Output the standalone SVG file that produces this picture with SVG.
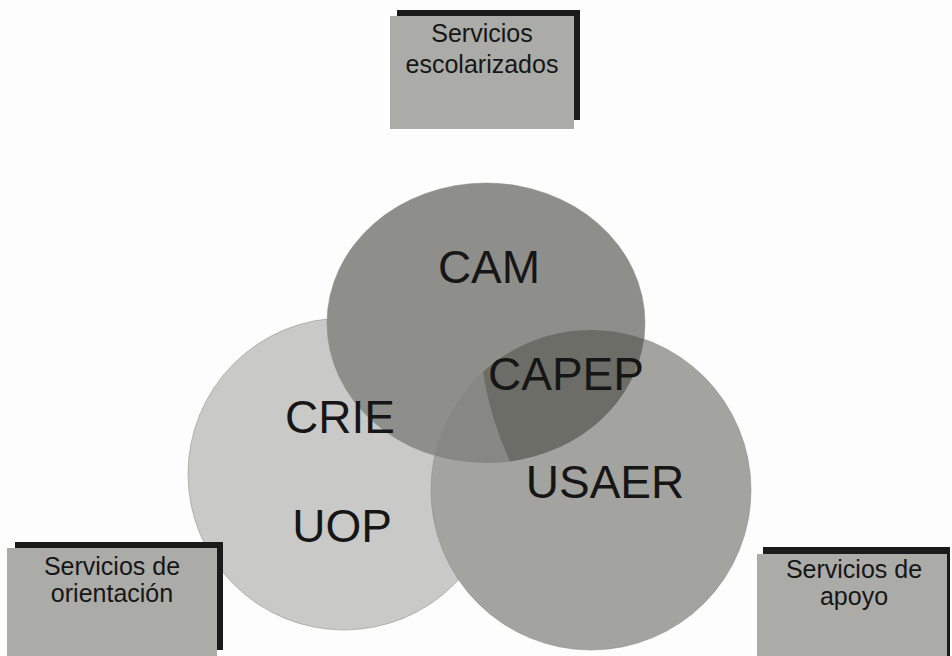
<svg xmlns="http://www.w3.org/2000/svg" width="952" height="656" viewBox="0 0 952 656">
  <style>
    .lbl { font-family: "Liberation Sans", Arial, sans-serif; fill: #161616; text-anchor: middle; }
    .big { font-size: 46px; }
    .small { font-size: 25px; }
    .shadow { fill: #1b1b1b; }
    .box { fill: #ababa8; }
    .ring { stroke: #85867f; stroke-width: 1; stroke-opacity: 0.5; }
  </style>
  <defs>
    <clipPath id="clipRight">
      <circle cx="591" cy="490" r="160"/>
    </clipPath>
  </defs>
  <rect width="952" height="656" fill="#fdfdfd"/>

  <g id="circle-orientacion">
    <circle class="ring" cx="344" cy="474" r="156" fill="#c9cac8"/>
  </g>
  <g id="circle-escolarizados">
    <ellipse class="ring" cx="486" cy="323" rx="159" ry="140" fill="#8e8f8a"/>
  </g>
  <g id="circle-apoyo">
    <circle class="ring" cx="591" cy="490" r="160" fill="#a3a49f"/>
    <g clip-path="url(#clipRight)">
      <ellipse cx="486" cy="323" rx="159" ry="140" fill="#878883"/>
    </g>
    <path d="M 483 372 A 160 160 0 0 1 643.9 339 A 159 140 0 0 1 510 461.4 Q 490 418 483 372 Z" fill="#6c6d67"/>
  </g>

  <g id="labels-circles">
    <text class="lbl big" x="489" y="283">CAM</text>
    <text class="lbl big" x="566" y="390">CAPEP</text>
    <text class="lbl big" x="340" y="433">CRIE</text>
    <text class="lbl big" x="342" y="542">UOP</text>
    <text class="lbl big" x="605" y="498">USAER</text>
  </g>

  <g id="box-escolarizados">
    <rect class="shadow" x="397" y="10" width="183" height="110"/>
    <rect class="box" x="390" y="16" width="184" height="113" fill="#b0b0ad"/>
    <text class="lbl small" x="482" y="42">Servicios</text>
    <text class="lbl small" x="482" y="73">escolarizados</text>
  </g>

  <g id="box-orientacion">
    <rect class="shadow" x="15" y="542" width="208" height="108"/>
    <rect class="box" x="7" y="548" width="210" height="108"/>
    <text class="lbl small" x="112" y="575">Servicios de</text>
    <text class="lbl small" x="112" y="602">orientación</text>
  </g>

  <g id="box-apoyo">
    <rect class="shadow" x="763" y="547" width="187" height="109"/>
    <rect class="box" x="757" y="554" width="190" height="102"/>
    <text class="lbl small" x="854" y="578">Servicios de</text>
    <text class="lbl small" x="854" y="605">apoyo</text>
  </g>
</svg>
